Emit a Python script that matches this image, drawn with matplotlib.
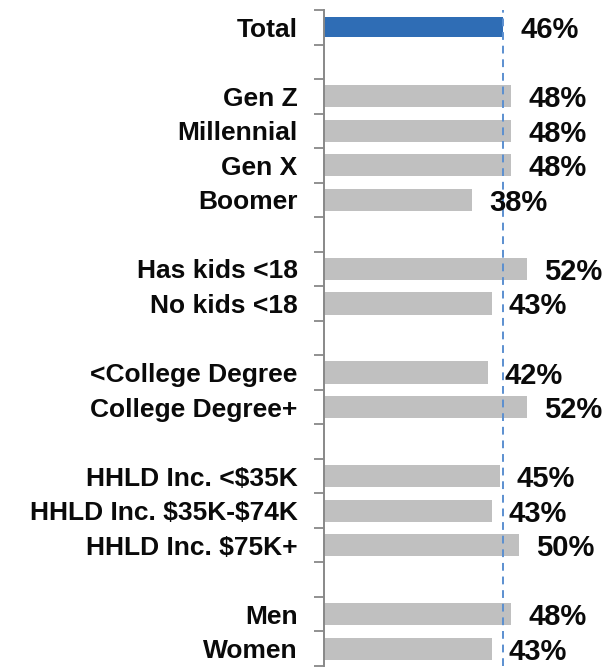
import matplotlib
matplotlib.use("Agg")
import matplotlib.pyplot as plt
import numpy as np

categories = ["Total", "", "Gen Z", "Millennial", "Gen X", "Boomer", "",
              "Has kids <18", "No kids <18", "",
              "<College Degree", "College Degree+", "",
              "HHLD Inc. <$35K", "HHLD Inc. $35K-$74K", "HHLD Inc. $75K+", "",
              "Men", "Women"]
values = [46, None, 48, 48, 48, 38, None,
          52, 43, None,
          42, 52, None,
          45, 43, 50, None,
          48, 43]
highlight = "Total"
reference_value = 46

plt.rcParams['font.family'] = ['Liberation Sans', 'DejaVu Sans']
plt.rcParams['text.parse_math'] = False

fig = plt.figure(figsize=(6.08, 6.70), dpi=100)
ax = fig.add_axes([324/608, 4/670, 284/608, 656/670])

n = len(categories)
y = np.arange(n)
for i, (c, v) in enumerate(zip(categories, values)):
    if v is None:
        continue
    col = "#2f6db5" if c == highlight else "#c0c0c0"
    h = 0.58 if c == highlight else 0.64
    ax.barh(i, v, height=h, color=col, zorder=2)
    ax.annotate(f"{v}%", xy=(v, i), xytext=(17, -3), textcoords="offset pixels",
                ha="left", va="center", fontsize=21, fontweight="bold",
                color="#0a0a0a", zorder=4)

ax.axvline(reference_value, color="#5b8fd0", linestyle=(0, (4, 3)), linewidth=1.4, zorder=3)

ax.set_xlim(0, 72.8)
ax.set_ylim(n - 0.5, -0.5)

ax.set_yticks(y)
ax.set_yticklabels(categories, fontsize=19, fontweight="bold", color="#0a0a0a")
ax.set_yticks(np.arange(-0.5, n, 1.0), minor=True)
ax.tick_params(axis="y", which="major", length=0, pad=19)
ax.tick_params(axis="y", which="minor", length=7.2, width=1.3, color="#888888")
ax.set_xticks([])

for s in ["top", "right", "bottom"]:
    ax.spines[s].set_visible(False)
ax.spines["left"].set_color("#888888")
ax.spines["left"].set_linewidth(1.4)

fig.savefig("out.png", dpi=100)
